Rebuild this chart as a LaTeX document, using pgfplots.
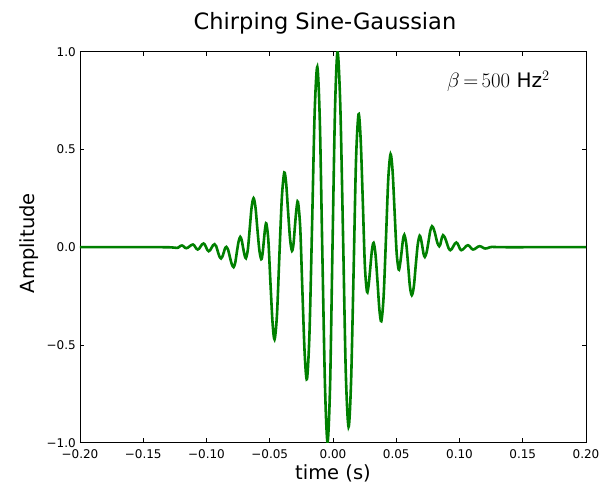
\documentclass[border=0pt]{standalone}
\usepackage{pgfplots}
\pgfplotsset{compat=1.18}
\usepackage{fontspec}
\setmainfont{DejaVu Sans}
\definecolor{mplgreen}{rgb}{0,0.5,0}
\begin{document}
\begin{tikzpicture}
\begin{axis}[
  scale only axis,
  width=506pt, height=391pt,
  xmin=-0.2, xmax=0.2, ymin=-1, ymax=1,
  axis line style={line width=0.9pt, black},
  tick align=inside, tick pos=both,
  major tick length=4.5pt,
  tick style={line width=0.7pt, black},
  xtick={-0.2,-0.15,-0.1,-0.05,0,0.05,0.1,0.15,0.2},
  xticklabels={−0.20,−0.15,−0.10,−0.05,0.00,0.05,0.10,0.15,0.20},
  ytick={-1,-0.5,0,0.5,1},
  yticklabels={−1.0,−0.5,0.0,0.5,1.0},
  xticklabel style={anchor=base, yshift=-15.8pt, font=\fontsize{12}{14}\selectfont},
  yticklabel style={anchor=east, inner sep=0pt, xshift=-4pt, font=\fontsize{12}{14}\selectfont},
  xlabel={time (s)},
  ylabel={Amplitude},
  xlabel style={at={(rel axis cs:0.5,0)}, anchor=base, yshift=-36.6pt, font=\fontsize{19.5}{23}\selectfont},
  ylabel style={at={(rel axis cs:0,0.5)}, anchor=base, yshift=45.7pt, xshift=4pt, font=\fontsize{19.5}{23}\selectfont},
  clip=true,
]
\addplot[mplgreen, line width=2.6pt, smooth] coordinates {
(-0.2,0) (-0.16,0) (-0.135,0) (-0.1280,-0.0008)
(-0.1233,-0.0036) (-0.1223,-0.0018) (-0.1214,0.0026) (-0.1204,0.0069)
(-0.1194,0.0087) (-0.1186,0.0067) (-0.1177,0.0018) (-0.1169,-0.0031)
(-0.1160,-0.0051) (-0.1147,-0.0023) (-0.1134,0.0044) (-0.1120,0.0110)
(-0.1107,0.0138) (-0.1098,0.0101) (-0.1089,0.0010) (-0.1079,-0.0081)
(-0.1070,-0.0118) (-0.1058,-0.0073) (-0.1047,0.0036) (-0.1035,0.0144)
(-0.1023,0.0189) (-0.1013,0.0131) (-0.1003,-0.0008) (-0.0993,-0.0147)
(-0.0983,-0.0205) (-0.0971,-0.0153) (-0.0960,-0.0026) (-0.0948,0.0101)
(-0.0936,0.0153) (-0.0923,0.0046) (-0.0911,-0.0213) (-0.0898,-0.0471)
(-0.0885,-0.0578) (-0.0875,-0.0491) (-0.0864,-0.0282) (-0.0854,-0.0072)
(-0.0843,0.0015) (-0.0829,-0.0137) (-0.0815,-0.0504) (-0.0800,-0.0871)
(-0.0786,-0.1023) (-0.0773,-0.0796) (-0.0760,-0.0248) (-0.0746,0.0300)
(-0.0733,0.0527) (-0.0722,0.0367) (-0.0711,-0.0018) (-0.0699,-0.0403)
(-0.0688,-0.0563) (-0.0673,-0.0114) (-0.0658,0.0972) (-0.0643,0.2057)
(-0.0628,0.2506) (-0.0613,0.2049) (-0.0598,0.0946) (-0.0582,-0.0157)
(-0.0567,-0.0614) (-0.0557,-0.0347) (-0.0547,0.0299) (-0.0537,0.0945)
(-0.0527,0.1212) (-0.0511,0.0344) (-0.0495,-0.1752) (-0.0478,-0.3848)
(-0.0462,-0.4716) (-0.0443,-0.3466) (-0.0424,-0.0448) (-0.0404,0.2571)
(-0.0385,0.3821) (-0.0370,0.3234) (-0.0355,0.1816) (-0.0339,0.0398)
(-0.0324,-0.0189) (-0.0312,0.0178) (-0.0301,0.1064) (-0.0289,0.1950)
(-0.0277,0.2317) (-0.0259,0.0989) (-0.0242,-0.2218) (-0.0224,-0.5424)
(-0.0206,-0.6752) (-0.0186,-0.4413) (-0.0165,0.1236) (-0.0145,0.6884)
(-0.0124,0.9223) (-0.0104,0.6413) (-0.0084,-0.0376) (-0.0063,-0.7164)
(-0.0043,-0.9974) (-0.0023,-0.7051) (-0.0004,0.0008) (0.0016,0.7067)
(0.0036,0.9990) (0.0058,0.7182) (0.0080,0.0399) (0.0101,-0.6384)
(0.0123,-0.9192) (0.0143,-0.6850) (0.0163,-0.1195) (0.0182,0.4461)
(0.0202,0.6803) (0.0219,0.5472) (0.0236,0.2259) (0.0252,-0.0955)
(0.0269,-0.2286) (0.0282,-0.1919) (0.0295,-0.1033) (0.0308,-0.0147)
(0.0321,0.0220) (0.0336,-0.0366) (0.0352,-0.1783) (0.0367,-0.3199)
(0.0382,-0.3785) (0.0400,-0.2534) (0.0419,0.0486) (0.0437,0.3506)
(0.0455,0.4757) (0.0471,0.3894) (0.0487,0.1808) (0.0503,-0.0278)
(0.0519,-0.1141) (0.0530,-0.0882) (0.0542,-0.0256) (0.0553,0.0370)
(0.0564,0.0629) (0.0579,0.0178) (0.0594,-0.0913) (0.0608,-0.2004)
(0.0623,-0.2455) (0.0639,-0.2010) (0.0654,-0.0934) (0.0670,0.0143)
(0.0685,0.0588) (0.0695,0.0429) (0.0706,0.0046) (0.0716,-0.0337)
(0.0726,-0.0496) (0.0740,-0.0266) (0.0755,0.0289) (0.0769,0.0844)
(0.0783,0.1074) (0.0797,0.0924) (0.0812,0.0563) (0.0826,0.0201)
(0.0840,0.0051) (0.0848,0.0133) (0.0855,0.0333) (0.0863,0.0532)
(0.0870,0.0614) (0.0884,0.0502) (0.0899,0.0231) (0.0913,-0.0041)
(0.0927,-0.0153) (0.0939,-0.0095) (0.0951,0.0044) (0.0963,0.0182)
(0.0975,0.0240) (0.0985,0.0182) (0.0995,0.0044) (0.1004,-0.0095)
(0.1014,-0.0153) (0.1027,-0.0116) (0.1041,-0.0026) (0.1054,0.0065)
(0.1067,0.0102) (0.1077,0.0070) (0.1087,-0.0008) (0.1097,-0.0086)
(0.1107,-0.0118) (0.1120,-0.0093) (0.1133,-0.0034) (0.1146,0.0026)
(0.1159,0.0051) (0.1170,0.0034) (0.1182,-0.0008) (0.1193,-0.0049)
(0.1204,-0.0066) (0.1217,-0.0054) (0.1231,-0.0026) (0.1244,0.0003)
(0.1257,0.0015) (0.1300,0.0004) (0.1350,0) (0.16,0) (0.2,0)
};
\end{axis}
\node[anchor=base, font=\fontsize{22.5}{27}\selectfont] at ([xshift=-8pt,yshift=22.4pt]current axis.north) {Chirping Sine-Gaussian};
\node[anchor=base west, inner sep=0pt, font=\fontsize{20}{24}\selectfont] at ([xshift=367pt,yshift=-36pt]current axis.north west) {$\beta\,{=}\,500$ Hz$^2$};
\pgfresetboundingbox
\path[use as bounding box] ([xshift=-80pt,yshift=-44.3pt]current axis.south west) rectangle ([xshift=17pt,yshift=51.7pt]current axis.north east);
\end{tikzpicture}
\end{document}
